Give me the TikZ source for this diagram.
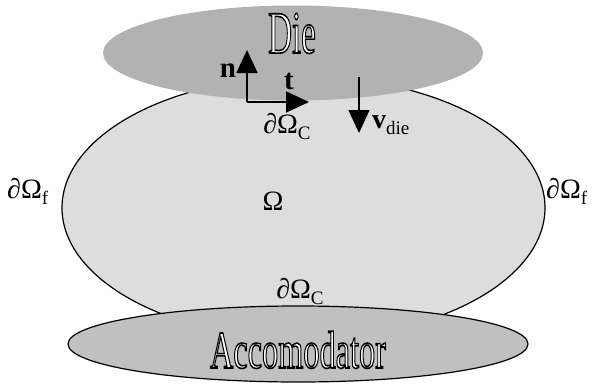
\documentclass[tikz,border=0pt]{standalone}
\usepackage{fontspec}
\setmainfont{Liberation Serif}
\usepackage{graphicx}
\usetikzlibrary{arrows.meta}
\definecolor{diegray}{HTML}{B2B2B2}
\definecolor{bodygray}{HTML}{DDDDDD}
\definecolor{accgray}{HTML}{C0C0C0}
\newcommand{\lowsub}[1]{\raisebox{-0.22em}{\fontsize{19}{19}\selectfont #1}}
\newcommand{\outlinetext}[1]{{\color{white}\special{pdf:literal direct 2 Tr 1.6 w 0 G}#1\special{pdf:literal direct 0 Tr}}}
\tikzset{
  lbl/.style={inner sep=0pt, font=\fontsize{28}{28}\selectfont},
  vec/.style={inner sep=0pt, font=\fontsize{29}{29}\selectfont\bfseries},
  bigarrow/.style={line width=1.8pt, -{Triangle[length=23pt,width=21pt]}},
  outl/.style={inner sep=0pt, text depth=0pt},
}
\begin{document}
\begin{tikzpicture}[x=1pt,y=-1pt]
\useasboundingbox (0,0) rectangle (597,383);
% body
\draw[fill=bodygray, line width=1.2pt] (303.5,207.8) ellipse [x radius=241.5, y radius=131];
% die
\fill[diegray] (293,53) ellipse [x radius=190, y radius=47.5];
% accomodator
\draw[fill=accgray, line width=1.2pt] (298,344) ellipse [x radius=230, y radius=38];
% texts
\node[outl, anchor=base] (die) at (292,53) {\scalebox{0.55}[1]{\fontsize{60}{60}\selectfont\outlinetext{Die}}};
\node[outl, anchor=base] (acc) at (298,368) {\scalebox{0.61}[1]{\fontsize{53}{53}\selectfont\outlinetext{Accomodator}}};
\node[vec] (n) at (228,71) {n};
\node[vec] (t) at (289,81) {t};
\node[lbl, anchor=base] (dct) at (287,133) {∂Ω\lowsub{C}};
\node[lbl, anchor=base west] (vdie) at (372,128) {\textbf{v}\lowsub{die}};
\node[lbl] (om) at (273,201) {Ω};
\node[lbl, anchor=base west] (dfl) at (7,198) {∂Ω\lowsub{f}};
\node[lbl, anchor=base west] (dfr) at (546,198) {∂Ω\lowsub{f}};
\node[lbl, anchor=base] (dcb) at (300,298) {∂Ω\lowsub{C}};
% vectors
\coordinate (o) at (247,102);
\coordinate (ntip) at (247,50);
\coordinate (ttip) at (309,102);
\coordinate (vs) at (359,77);
\coordinate (vtip) at (359,133);
\draw[bigarrow] (o) -- (ntip);
\draw[bigarrow] (o) -- (ttip);
\draw[bigarrow, line width=1.3pt] (vs) -- (vtip);
\end{tikzpicture}
\end{document}
